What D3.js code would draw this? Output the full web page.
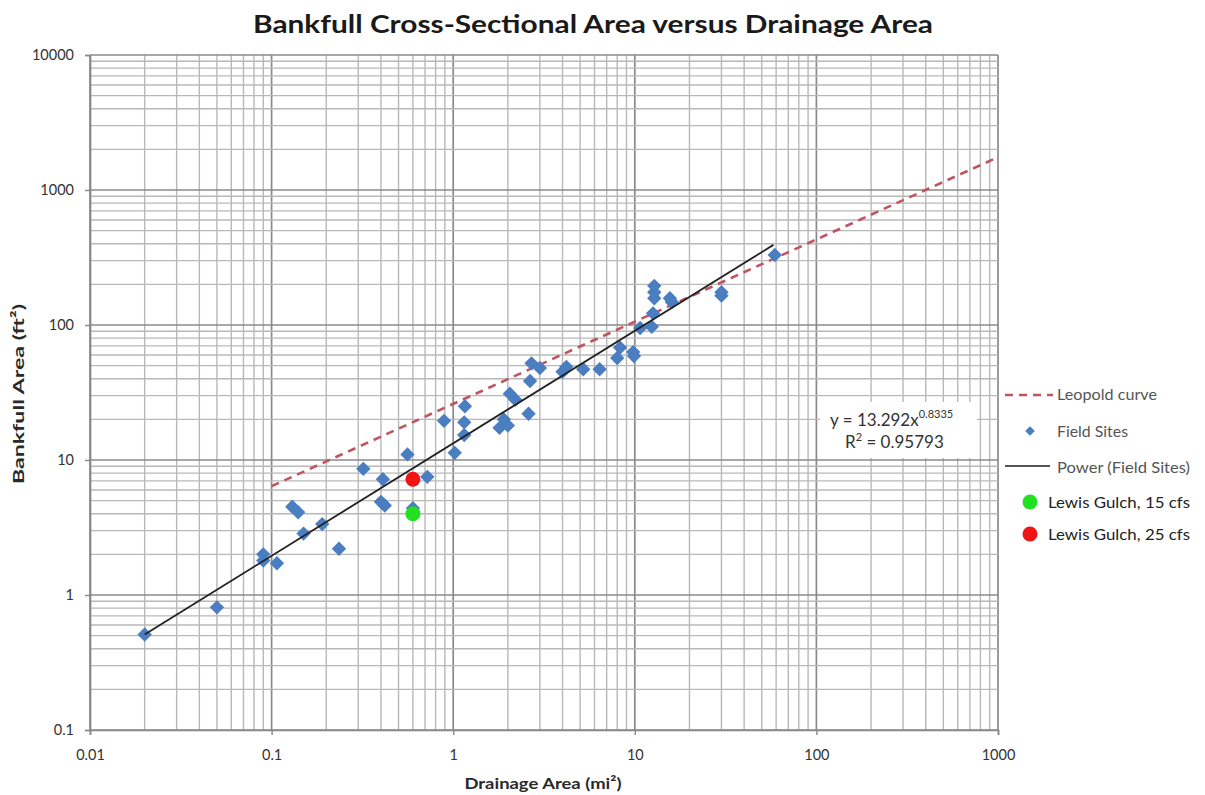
<!DOCTYPE html>
<html>
<head>
<meta charset="utf-8">
<script src="https://cdn.jsdelivr.net/npm/d3@7"></script>
<style>
  html, body { margin: 0; padding: 0; background: #ffffff; }
  svg { display: block; }
</style>
</head>
<body>
<svg id="chart" width="1205" height="795"></svg>
<script>
// Drainage area (mi²) and bankfull cross-sectional area (ft²) of the surveyed field sites
const siteArea = [
  0.02, 0.05, 0.09, 0.09, 0.107, 0.13, 0.14, 0.15, 0.19, 0.235,
  0.32, 0.41, 0.40, 0.42, 0.56, 0.60, 0.72, 0.89, 1.02, 1.16,
  1.15, 1.15, 2.05, 2.2, 2.6, 1.9, 2.0, 1.8, 2.7, 3.0,
  2.65, 4.0, 4.2, 5.2, 6.4, 8.0, 8.3, 9.8, 9.9, 10.7,
  12.4, 12.6, 12.8, 12.8, 12.8, 15.6, 16.0, 30, 30, 59
];
const siteBankfull = [
  0.51, 0.81, 2.0, 1.8, 1.72, 4.5, 4.1, 2.85, 3.35, 2.2,
  8.6, 7.2, 4.9, 4.6, 11.0, 4.4, 7.5, 19.5, 11.3, 25,
  19, 15.3, 31, 28, 22, 20, 18, 17.3, 52, 48,
  38.5, 45, 49, 47, 47, 57, 68, 63, 59, 95,
  97, 122, 195, 175, 158, 158, 148, 175, 165, 330
];

// Lewis Gulch measurements at two discharges
const lewisArea = [0.6, 0.6];
const lewisBankfull = [4.0, 7.2];
const lewisLabels = ["Lewis Gulch, 15 cfs", "Lewis Gulch, 25 cfs"];
const lewisColors = ["#22e022", "#f01414"];

// Leopold regional curve (straight on log-log axes, given by its end points)
const leopoldArea = [0.1, 1000];
const leopoldBankfull = [6.4, 1750];

// Power-law fit of the field sites
const trendCoef = 13.292;
const trendExp = 0.8335;
const trendR2 = "0.95793";
const trendArea = [0.02, 58];

// Axis ticks
const xTicks = [0.01, 0.1, 1, 10, 100, 1000];
const xTickLabels = ["0.01", "0.1", "1", "10", "100", "1000"];
const yTicks = [0.1, 1, 10, 100, 1000, 10000];
const yTickLabels = ["0.1", "1", "10", "100", "1000", "10000"];

const FONT = "Lato, 'Open Sans', 'Liberation Sans', sans-serif";
const svg = d3.select("#chart");

const plot = { left: 90, right: 998, top: 55, bottom: 730 };
const x = d3.scaleLog().domain([0.01, 1000]).range([plot.left, plot.right]);
const y = d3.scaleLog().domain([0.1, 10000]).range([plot.bottom, plot.top]);

const isMajor = v => Math.abs(Math.log10(v) - Math.round(Math.log10(v))) < 1e-9;

// Grid: every 1–9 multiple of each decade, decades drawn darker
const grid = svg.append("g").attr("class", "grid");
grid.selectAll("line.gx").data(x.ticks()).join("line")
  .attr("class", "gx")
  .attr("x1", d => x(d)).attr("x2", d => x(d))
  .attr("y1", plot.top).attr("y2", plot.bottom)
  .attr("stroke", d => isMajor(d) ? "#8a8a8a" : "#b8b8b8")
  .attr("stroke-width", d => isMajor(d) ? 1.7 : 1.4);
grid.selectAll("line.gy").data(y.ticks()).join("line")
  .attr("class", "gy")
  .attr("x1", plot.left).attr("x2", plot.right)
  .attr("y1", d => y(d)).attr("y2", d => y(d))
  .attr("stroke", d => isMajor(d) ? "#8a8a8a" : "#b8b8b8")
  .attr("stroke-width", d => isMajor(d) ? 1.7 : 1.4);

// Axes
const xAxis = svg.append("g")
  .attr("transform", `translate(0,${plot.bottom})`)
  .call(d3.axisBottom(x).tickValues(xTicks)
    .tickFormat((d, i) => xTickLabels[i]).tickSize(5).tickPadding(15));
const yAxis = svg.append("g")
  .attr("transform", `translate(${plot.left},0)`)
  .call(d3.axisLeft(y).tickValues(yTicks)
    .tickFormat((d, i) => yTickLabels[i]).tickSize(5).tickPadding(11));
[xAxis, yAxis].forEach(a => {
  a.select(".domain").attr("stroke", "#888").attr("stroke-width", 1.7);
  a.selectAll(".tick line").attr("stroke", "#888").attr("stroke-width", 1.4);
  a.selectAll(".tick text").attr("fill", "#333")
    .style("font-family", FONT).style("font-size", "14.5px");
});

// Equation label box
const eqBox = svg.append("g");
eqBox.append("rect")
  .attr("x", 820).attr("y", 402).attr("width", 157).attr("height", 56)
  .attr("fill", "#ffffff");
const eq1 = eqBox.append("text")
  .attr("x", 830).attr("y", 426)
  .attr("fill", "#333").style("font-family", FONT).style("font-size", "17px");
eq1.append("tspan").text(`y = ${trendCoef}x`);
eq1.append("tspan").attr("dy", -8).style("font-size", "11px").text(trendExp);
const eq2 = eqBox.append("text")
  .attr("x", 845).attr("y", 448)
  .attr("fill", "#333").style("font-family", FONT).style("font-size", "17px");
eq2.append("tspan").text("R");
eq2.append("tspan").attr("dy", -7).style("font-size", "11px").text("2");
eq2.append("tspan").attr("dy", 7).text(` = ${trendR2}`);

const line = d3.line().x(d => x(d[0])).y(d => y(d[1]));

// Leopold curve
svg.append("path")
  .datum(leopoldArea.map((a, i) => [a, leopoldBankfull[i]]))
  .attr("d", line)
  .attr("fill", "none").attr("stroke", "#bf5561")
  .attr("stroke-width", 2.6).attr("stroke-dasharray", "8,6");

// Field site markers
const diamond = d3.symbol().type(d3.symbolDiamond2).size(132);
svg.append("g").selectAll("path").data(siteArea.map((a, i) => [a, siteBankfull[i]]))
  .join("path")
  .attr("d", diamond)
  .attr("transform", d => `translate(${x(d[0])},${y(d[1])})`)
  .attr("fill", "#4a7ec0");

// Power trend line
svg.append("path")
  .datum(trendArea.map(a => [a, trendCoef * Math.pow(a, trendExp)]))
  .attr("d", line)
  .attr("fill", "none").attr("stroke", "#222").attr("stroke-width", 1.8);

// Lewis Gulch points
svg.append("g").selectAll("circle").data(lewisArea.map((a, i) => [a, lewisBankfull[i], lewisColors[i]]))
  .join("circle")
  .attr("cx", d => x(d[0])).attr("cy", d => y(d[1])).attr("r", 7.5)
  .attr("fill", d => d[2]);

// Title and axis titles
svg.append("text")
  .attr("x", 593).attr("y", 33).attr("text-anchor", "middle")
  .attr("fill", "#1a1a1a").style("font-family", FONT)
  .style("font-size", "24px").style("font-weight", "bold")
  .attr("textLength", 680).attr("lengthAdjust", "spacingAndGlyphs")
  .text("Bankfull Cross-Sectional Area versus Drainage Area");
svg.append("text")
  .attr("x", 543).attr("y", 789).attr("text-anchor", "middle")
  .attr("fill", "#2a2a2a").style("font-family", FONT)
  .style("font-size", "16px").style("font-weight", "bold")
  .attr("textLength", 157).attr("lengthAdjust", "spacingAndGlyphs")
  .text("Drainage Area (mi²)");
svg.append("text")
  .attr("transform", "translate(24,394) rotate(-90)").attr("text-anchor", "middle")
  .attr("fill", "#2a2a2a").style("font-family", FONT)
  .style("font-size", "16px").style("font-weight", "bold")
  .attr("textLength", 180).attr("lengthAdjust", "spacingAndGlyphs")
  .text("Bankfull Area (ft²)");

// Legend
const lg = svg.append("g").style("font-family", FONT);
const legendText = (tx, ty, label, width, color, size) =>
  lg.append("text").attr("x", tx).attr("y", ty).attr("dy", "0.35em")
    .attr("fill", color).style("font-size", size)
    .attr("textLength", width).attr("lengthAdjust", "spacingAndGlyphs")
    .text(label);
lg.append("line").attr("x1", 1005).attr("x2", 1053).attr("y1", 395).attr("y2", 395)
  .attr("stroke", "#bf5561").attr("stroke-width", 2.6).attr("stroke-dasharray", "8,6");
legendText(1057, 395, "Leopold curve", 100, "#555", "15px");
lg.append("path").attr("d", d3.symbol().type(d3.symbolDiamond2).size(60))
  .attr("transform", "translate(1030,431)").attr("fill", "#4a7ec0");
legendText(1057, 432, "Field Sites", 71, "#555", "15px");
lg.append("line").attr("x1", 1005).attr("x2", 1050).attr("y1", 466).attr("y2", 466)
  .attr("stroke", "#555").attr("stroke-width", 2);
legendText(1057, 468, "Power (Field Sites)", 133, "#555", "15px");
lewisLabels.forEach((label, i) => {
  const cy = 502 + i * 32;
  lg.append("circle").attr("cx", 1030).attr("cy", cy).attr("r", 7.5).attr("fill", lewisColors[i]);
  legendText(1048, cy, label, 142, "#222", "16px");
});
</script>
</body>
</html>
